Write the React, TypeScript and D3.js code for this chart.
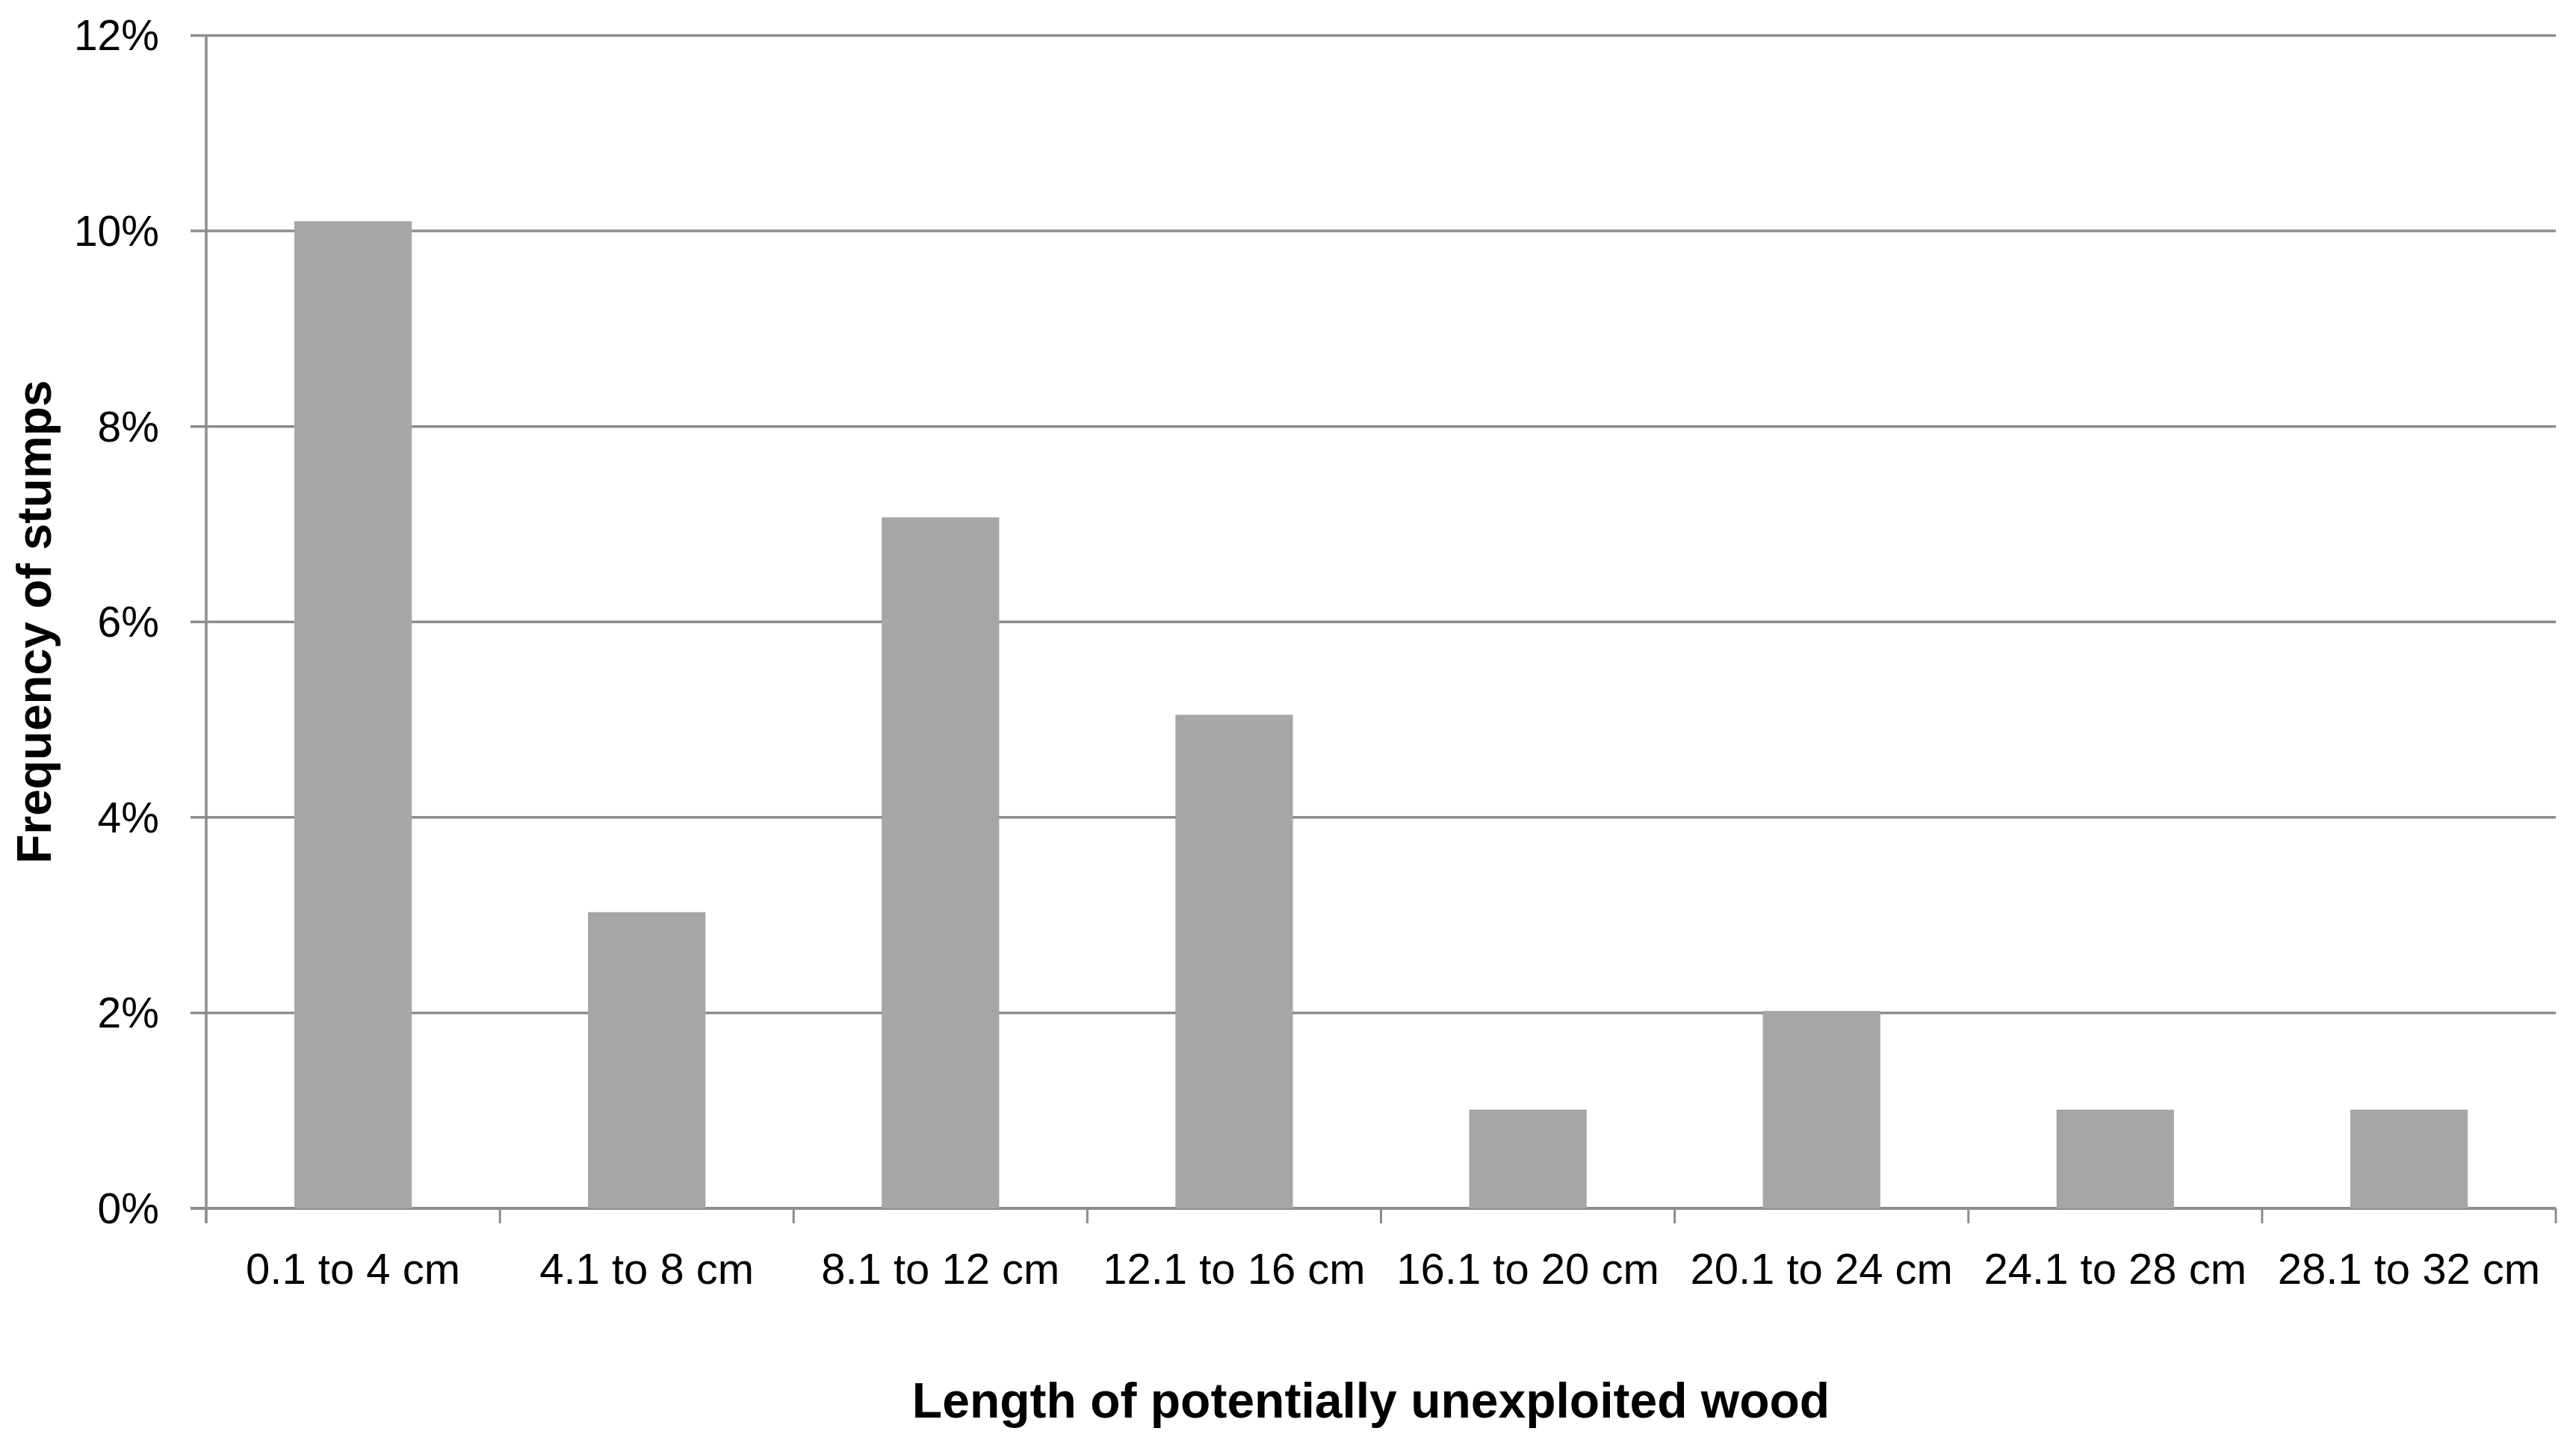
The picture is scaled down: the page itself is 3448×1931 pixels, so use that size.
import React from "react";
import * as d3 from "d3";

const categories = [
  "0.1 to 4 cm",
  "4.1 to 8 cm",
  "8.1 to 12 cm",
  "12.1 to 16 cm",
  "16.1 to 20 cm",
  "20.1 to 24 cm",
  "24.1 to 28 cm",
  "28.1 to 32 cm",
];
const frequency = [0.101, 0.0303, 0.0707, 0.0505, 0.0101, 0.0202, 0.0101, 0.0101];
const yTicks = [0, 0.02, 0.04, 0.06, 0.08, 0.1, 0.12];
const yTitle = "Frequency of stumps";
const xTitle = "Length of potentially unexploited wood";

const W = 3448;
const H = 1931;
const left = 276;
const right = 3421;
const top = 47.5;
const bottom = 1617;
const FONT = "'Liberation Sans', Arial, sans-serif";
const LINE = "#8c8c8c";
const BAR = "#a6a6a6";

export default function App() {
  const x = d3
    .scaleBand<string>()
    .domain(categories)
    .range([left, right])
    .paddingInner(0.6)
    .paddingOuter(0.3);
  const y = d3.scaleLinear().domain([0, 0.12]).range([bottom, top]);
  const fmt = d3.format(".0%");
  const step = x.step();
  const boundaries = d3.range(categories.length + 1).map((i) => left + i * step);

  return (
    <svg
      width={W}
      height={H}
      viewBox={`0 0 ${W} ${H}`}
      style={{ position: "absolute", left: 0, top: 0, background: "#fff" }}
    >
      <rect x={0} y={0} width={W} height={H} fill="#fff" />
      {/* gridlines */}
      {yTicks.map((t) => (
        <line
          key={"g" + t}
          x1={left - 21}
          x2={right}
          y1={y(t)}
          y2={y(t)}
          stroke={LINE}
          strokeWidth={t === 0 ? 4 : 3.5}
        />
      ))}
      {/* bars */}
      {categories.map((c, i) => (
        <rect
          key={c}
          x={x(c)}
          y={y(frequency[i])}
          width={x.bandwidth()}
          height={y(0) - y(frequency[i])}
          fill={BAR}
        />
      ))}
      {/* y axis line */}
      <line x1={left} x2={left} y1={top} y2={bottom + 20} stroke={LINE} strokeWidth={3.5} />
      {/* x ticks */}
      {boundaries.map((b, i) => (
        <line key={"t" + i} x1={b} x2={b} y1={bottom} y2={bottom + 20} stroke={LINE} strokeWidth={3} />
      ))}
      {/* y tick labels */}
      {yTicks.map((t) => (
        <text
          key={"yl" + t}
          x={213}
          y={y(t)}
          dy="0.35em"
          textAnchor="end"
          fontFamily={FONT}
          fontSize={57}
          fill="#000"
        >
          {fmt(t)}
        </text>
      ))}
      {/* x tick labels */}
      {categories.map((c) => (
        <text
          key={"xl" + c}
          x={(x(c) as number) + x.bandwidth() / 2}
          y={1718}
          textAnchor="middle"
          fontFamily={FONT}
          fontSize={58}
          fill="#000"
        >
          {c}
        </text>
      ))}
      {/* axis titles */}
      <text
        transform={`translate(68, ${(top + bottom) / 2}) rotate(-90)`}
        textAnchor="middle"
        fontFamily={FONT}
        fontWeight="bold"
        fontSize={64}
        fill="#000"
      >
        {yTitle}
      </text>
      <text
        x={1835}
        y={1897}
        textAnchor="middle"
        fontFamily={FONT}
        fontWeight="bold"
        fontSize={66}
        fill="#000"
      >
        {xTitle}
      </text>
    </svg>
  );
}
